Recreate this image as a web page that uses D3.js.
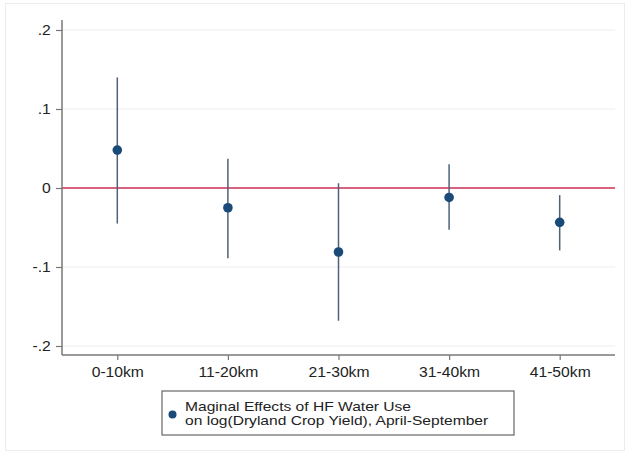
<!DOCTYPE html>
<html>
<head>
<meta charset="utf-8">
<script src="https://cdn.jsdelivr.net/npm/d3@7"></script>
<style>
  html, body { margin: 0; padding: 0; background: #fff; }
  svg { display: block; font-family: "Liberation Sans", Arial, Helvetica, sans-serif; }
</style>
</head>
<body>
<svg id="chart" width="629" height="456"></svg>
<script>
// Distance bands and estimated marginal effects with 95% confidence bounds
const categories = ["0-10km", "11-20km", "21-30km", "31-40km", "41-50km"];
const estimates  = [0.048, -0.025, -0.081, -0.012, -0.0435];
const ciLower    = [-0.045, -0.089, -0.168, -0.053, -0.079];
const ciUpper    = [0.140, 0.037, 0.006, 0.030, -0.009];
const yTicks      = [0.2, 0.1, 0, -0.1, -0.2];
const yTickLabels = [".2", ".1", "0", "-.1", "-.2"];
const legendLines = ["Maginal Effects of HF Water Use", "on log(Dryland Crop Yield), April-September"];

const svg = d3.select("#chart");
const stretch = "scale(1.12,1)";

// faint outer frame
svg.append("rect")
  .attr("x", 5.5).attr("y", 3.5).attr("width", 619).attr("height", 447)
  .attr("fill", "#fff").attr("stroke", "#ececec");

const plotL = 62, plotR = 615, plotT = 20, plotB = 355;

const x = d3.scalePoint().domain(categories).range([plotL, plotR]).padding(0.5);
const y = d3.scaleLinear().domain([-0.2, 0.2]).range([346, 30]);

// horizontal grid
svg.append("g").selectAll("line")
  .data(yTicks.filter(d => d !== 0))
  .join("line")
  .attr("x1", plotL).attr("x2", plotR)
  .attr("y1", d => y(d)).attr("y2", d => y(d))
  .attr("stroke", "#ededed").attr("stroke-width", 1.2);

// reference line at zero
svg.append("line")
  .attr("x1", plotL).attr("x2", plotR)
  .attr("y1", y(0)).attr("y2", y(0))
  .attr("stroke", "#cf2e55").attr("stroke-width", 1.5);

// y axis
const yAxis = d3.axisLeft(y)
  .tickValues(yTicks)
  .tickFormat((d, i) => yTickLabels[i])
  .tickSize(6).tickPadding(4);
const gy = svg.append("g").attr("transform", `translate(${plotL},0)`).call(yAxis);
gy.select(".domain").remove();
gy.selectAll(".tick line").attr("stroke", "#777").attr("stroke-width", 1.2);
gy.selectAll(".tick text")
  .attr("font-size", 14).attr("fill", "#222")
  .attr("font-family", "'Liberation Sans', Arial, sans-serif")
  .attr("transform", stretch);
svg.append("line")
  .attr("x1", plotL).attr("x2", plotL).attr("y1", plotT).attr("y2", plotB)
  .attr("stroke", "#777").attr("stroke-width", 1.5);

// x axis
const xAxis = d3.axisBottom(x).tickSize(5).tickPadding(7);
const gx = svg.append("g").attr("transform", `translate(0,${plotB})`).call(xAxis);
gx.select(".domain").remove();
gx.selectAll(".tick line").attr("stroke", "#777").attr("stroke-width", 1.2);
gx.selectAll(".tick text")
  .attr("font-size", 14).attr("fill", "#222")
  .attr("font-family", "'Liberation Sans', Arial, sans-serif")
  .attr("transform", stretch);
svg.append("line")
  .attr("x1", plotL).attr("x2", plotR).attr("y1", plotB).attr("y2", plotB)
  .attr("stroke", "#777").attr("stroke-width", 1.5);

// confidence intervals
svg.append("g").selectAll("line")
  .data(categories)
  .join("line")
  .attr("x1", d => x(d)).attr("x2", d => x(d))
  .attr("y1", (d, i) => y(ciUpper[i])).attr("y2", (d, i) => y(ciLower[i]))
  .attr("stroke", "#4d6278").attr("stroke-width", 1.5);

// point estimates
svg.append("g").selectAll("circle")
  .data(categories)
  .join("circle")
  .attr("cx", d => x(d)).attr("cy", (d, i) => y(estimates[i]))
  .attr("r", 4.8)
  .attr("fill", "#1a4a78");

// legend
const lg = svg.append("g");
lg.append("rect")
  .attr("x", 162).attr("y", 391).attr("width", 352).attr("height", 44)
  .attr("fill", "#fff").attr("stroke", "#666").attr("stroke-width", 1.2);
lg.append("circle").attr("cx", 172.5).attr("cy", 414.5).attr("r", 4).attr("fill", "#1a4a78");
lg.selectAll("text")
  .data(legendLines)
  .join("text")
  .attr("transform", (d, i) => `translate(185,${410.5 + i * 14.5}) scale(1.2,1)`)
  .attr("font-size", 13).attr("fill", "#222")
  .text(d => d);
</script>
</body>
</html>
